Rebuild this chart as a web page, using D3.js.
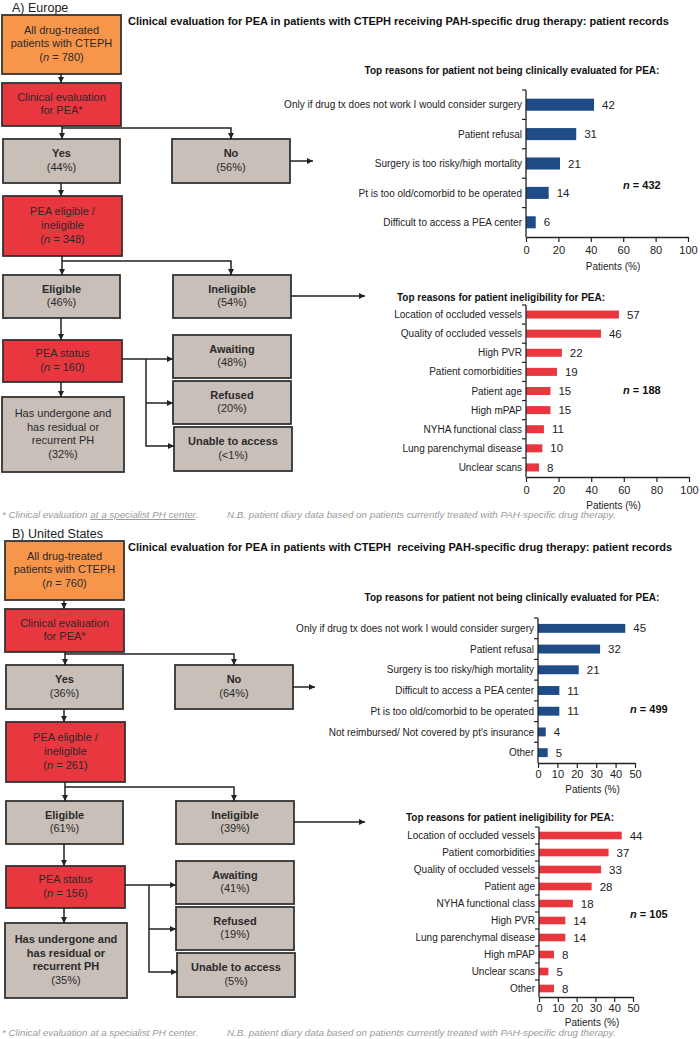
<!DOCTYPE html>
<html><head><meta charset="utf-8">
<script src="https://cdn.jsdelivr.net/npm/d3@7"></script>
<style>
body{margin:0;background:#fff;}
svg{display:block;font-family:"Liberation Sans",Arial,Helvetica,sans-serif;}
</style></head><body>
<svg id="chart" width="700" height="1039"></svg>
<script>
// ---------------- DATA ----------------
const regionLabels = ["A) Europe", "B) United States"];
const mainTitles = [
  "Clinical evaluation for PEA in patients with CTEPH receiving PAH-specific drug therapy: patient records",
  "Clinical evaluation for PEA in patients with CTEPH  receiving PAH-specific drug therapy: patient records"
];
const notEvalTitle = "Top reasons for patient not being clinically evaluated for PEA:";
const ineligTitle = "Top reasons for patient ineligibility for PEA:";
const axisTitle = "Patients (%)";
const footnoteLeft = ["* Clinical evaluation ", "at a specialist PH center", "."];
const footnoteRight = "N.B. patient diary data based on patients currently treated with PAH-specific drug therapy.";

// flowchart values
const europeCounts = [780, 348, 160];
const europeShares = ["44%", "56%", "46%", "54%", "32%", "48%", "20%", "<1%"];
const usCounts = [760, 261, 156];
const usShares = ["36%", "64%", "61%", "39%", "35%", "41%", "19%", "5%"];

// Europe bar charts
const euNotEvalReasons = ["Only if drug tx does not work I would consider surgery", "Patient refusal",
  "Surgery is too risky/high mortality", "Pt is too old/comorbid to be operated", "Difficult to access a PEA center"];
const euNotEvalValues = [42, 31, 21, 14, 6];
const euNotEvalN = 432;
const euIneligReasons = ["Location of occluded vessels", "Quality of occluded vessels", "High PVR",
  "Patient comorbidities", "Patient age", "High mPAP", "NYHA functional class", "Lung parenchymal disease", "Unclear scans"];
const euIneligValues = [57, 46, 22, 19, 15, 15, 11, 10, 8];
const euIneligN = 188;
const euTicks = [0, 20, 40, 60, 80, 100];

// US bar charts
const usNotEvalReasons = ["Only if drug tx does not work I would consider surgery", "Patient refusal",
  "Surgery is too risky/high mortality", "Difficult to access a PEA center", "Pt is too old/comorbid to be operated",
  "Not reimbursed/ Not covered by pt's insurance", "Other"];
const usNotEvalValues = [45, 32, 21, 11, 11, 4, 5];
const usNotEvalN = 499;
const usIneligReasons = ["Location of occluded vessels", "Patient comorbidities", "Quality of occluded vessels",
  "Patient age", "NYHA functional class", "High PVR", "Lung parenchymal disease", "High mPAP", "Unclear scans", "Other"];
const usIneligValues = [44, 37, 33, 28, 18, 14, 14, 8, 5, 8];
const usIneligN = 105;
const usTicks = [0, 10, 20, 30, 40, 50];

// ---------------- STYLE ----------------
const ORANGE = "#f7964a", RED = "#e9373f", GRAY = "#c8bfb8", NAVY = "#1f4c87", BARRED = "#e9373f";
const INK = "#222";

const svg = d3.select("#chart");
svg.append("defs").append("marker")
  .attr("id", "arr").attr("viewBox", "0 0 6 6").attr("refX", 6).attr("refY", 3)
  .attr("markerWidth", 6).attr("markerHeight", 6).attr("markerUnits", "userSpaceOnUse")
  .attr("orient", "auto")
  .append("path").attr("d", "M0,0L6,3L0,6Z").attr("fill", INK);

// rich text line: segments marked with _ for italic
function addLine(text, str, bold) {
  const parts = str.split("_");
  parts.forEach((p, i) => {
    if (!p) return;
    const ts = text.append("tspan").text(p);
    if (i % 2 === 1) ts.attr("font-style", "italic");
    if (bold) ts.attr("font-weight", "bold");
  });
}

function drawFlow(dx, dy, counts, shares, opt) {
  const g = svg.append("g").attr("transform", `translate(${dx},${dy})`);
  const boxes = [
    {x: 2, y: 15, w: 119, h: 59, fill: ORANGE, lines: ["All drug-treated", "patients with CTEPH", `(_n_ = ${counts[0]})`], bold: 0},
    {x: 2, y: 83, w: 119, h: 43, fill: RED, lines: ["Clinical evaluation", "for PEA*"], bold: 0},
    {x: 3, y: 139, w: 117, h: 44, fill: GRAY, lines: ["Yes", `(${shares[0]})`], bold: 1},
    {x: 172, y: 139, w: 118, h: 44, fill: GRAY, lines: ["No", `(${shares[1]})`], bold: 1},
    {x: 3, y: 196, w: 119, h: 60, fill: RED, lines: ["PEA eligible /", "ineligible", `(_n_ = ${counts[1]})`], bold: 0},
    {x: 3, y: 275, w: 117, h: 43, fill: GRAY, lines: ["Eligible", `(${shares[2]})`], bold: 1},
    {x: 173, y: 275, w: 118, h: 43, fill: GRAY, lines: ["Ineligible", `(${shares[3]})`], bold: 1},
    {x: 3, y: 340, w: 119, h: 42, fill: RED, lines: ["PEA status", `(_n_ = ${counts[2]})`], bold: 0},
    {x: 2, y: 397, w: 122, h: 75, fill: GRAY, lines: ["Has undergone and", "has residual or", "recurrent PH", `(${shares[4]})`], bold: opt.undergoneBold},
    {x: 173, y: 335, w: 118, h: 43, fill: GRAY, lines: ["Awaiting", `(${shares[5]})`], bold: 1},
    {x: 173, y: 381, w: 118, h: 43, fill: GRAY, lines: ["Refused", `(${shares[6]})`], bold: 1},
    {x: 174, y: 427, w: 118, h: 44, fill: GRAY, lines: ["Unable to access", `(${shares[7]})`], bold: 1}
  ];
  const LH = 13.6;
  boxes.forEach(b => {
    g.append("rect").attr("x", b.x).attr("y", b.y).attr("width", b.w).attr("height", b.h)
      .attr("fill", b.fill).attr("stroke", "#333").attr("stroke-width", 1.8);
    const cy = b.y + b.h / 2 - 1;
    const n = b.lines.length;
    b.lines.forEach((ln, i) => {
      const t = g.append("text").attr("x", b.x + b.w / 2)
        .attr("y", cy + (i - (n - 1) / 2) * LH).attr("dy", "0.36em")
        .attr("text-anchor", "middle").attr("font-size", 11).attr("fill", "#2a2a2a");
      addLine(t, ln, i < b.bold);
    });
  });
  const links = [
    [[61, 74], [61, 83]],
    [[62, 126], [62, 139]],
    [[62, 128], [231, 128], [231, 139]],
    [[290, 161], [opt.noEnd, 161]],
    [[61, 183], [61, 196]],
    [[62, 256], [62, 275]],
    [[62, 261], [231, 261], [231, 275]],
    [[291, 296], [opt.inEnd, 296]],
    [[61, 318], [61, 340]],
    [[61, 382], [61, 397]],
    [[122, 359], [173, 359]],
    [[146, 359], [146, 446], [174, 446]],
    [[146, 403], [173, 403]]
  ];
  const line = d3.line();
  links.forEach(p => {
    g.append("path").attr("d", line(p)).attr("fill", "none").attr("stroke", INK)
      .attr("stroke-width", 1.5).attr("marker-end", "url(#arr)");
  });
}

function barChart(cfg) {
  const g = svg.append("g");
  const x = d3.scaleLinear().domain([0, cfg.max]).range([cfg.x0, cfg.x1]);
  const y = d3.scaleBand().domain(cfg.cats).range([cfg.yTop, cfg.yBottom])
    .paddingInner(cfg.pad).paddingOuter(cfg.pad / 2);
  g.append("text").attr("x", cfg.titleX).attr("y", cfg.titleY).attr("text-anchor", "middle")
    .attr("font-size", 10).attr("font-weight", "bold").attr("fill", "#111").text(cfg.title);
  g.selectAll("rect.bar").data(cfg.cats).join("rect").attr("class", "bar")
    .attr("x", x(0)).attr("y", d => y(d))
    .attr("width", (d, i) => x(cfg.vals[i]) - x(0)).attr("height", y.bandwidth())
    .attr("fill", cfg.color);
  g.selectAll("text.val").data(cfg.cats).join("text").attr("class", "val")
    .attr("x", (d, i) => x(cfg.vals[i]) + 8).attr("y", d => y(d) + y.bandwidth() / 2)
    .attr("dy", "0.36em").attr("font-size", 11.5).attr("fill", "#222")
    .text((d, i) => cfg.vals[i]);
  g.selectAll("text.cat").data(cfg.cats).join("text").attr("class", "cat")
    .attr("x", cfg.x0 - 4).attr("y", d => y(d) + y.bandwidth() / 2)
    .attr("dy", "0.36em").attr("text-anchor", "end").attr("font-size", 10).attr("fill", "#222")
    .text(d => d);
  // y axis with ticks at category boundaries
  g.append("line").attr("x1", cfg.x0).attr("x2", cfg.x0).attr("y1", cfg.yTop).attr("y2", cfg.yBottom)
    .attr("stroke", INK).attr("stroke-width", 1.3);
  d3.range(cfg.cats.length).forEach(i => {
    const yy = cfg.yTop + i * y.step();
    g.append("line").attr("x1", cfg.x0 - 4).attr("x2", cfg.x0).attr("y1", yy).attr("y2", yy)
      .attr("stroke", INK).attr("stroke-width", 1.2);
  });
  const ax = g.append("g").attr("transform", `translate(0,${cfg.yBottom})`)
    .call(d3.axisBottom(x).tickValues(cfg.ticks).tickSize(5).tickSizeOuter(0).tickPadding(cfg.tickPad));
  ax.select(".domain").attr("stroke", INK).attr("stroke-width", 1.3);
  ax.selectAll(".tick line").attr("stroke", INK).attr("stroke-width", 1.2);
  ax.selectAll(".tick text").attr("font-size", 11).attr("fill", "#222")
    .attr("font-family", "Liberation Sans, Arial, sans-serif");
  g.append("text").attr("x", (cfg.x0 + cfg.x1) / 2 + 6).attr("y", cfg.yBottom + cfg.axTitleOff)
    .attr("text-anchor", "middle").attr("font-size", 10).attr("fill", "#222").text(axisTitle);
  const nt = g.append("text").attr("x", cfg.nX).attr("y", cfg.nY).attr("dy", "0.36em")
    .attr("font-size", 11).attr("font-weight", "bold").attr("fill", "#111");
  nt.append("tspan").attr("font-style", "italic").text("n");
  nt.append("tspan").text(` = ${cfg.n}`);
}

// ---------------- TEXT HEADERS ----------------
[[11.5, 25], [537.5, 551]].forEach((yy, i) => {
  svg.append("text").attr("x", 12).attr("y", yy[0]).attr("font-size", 12.5).attr("fill", "#222").text(regionLabels[i]);
  svg.append("text").attr("x", 128).attr("y", yy[1]).attr("font-size", 11).attr("font-weight", "bold")
    .attr("fill", "#111").style("white-space", "pre").text(mainTitles[i]);
});
[[518, true], [1036, false]].forEach(([yy, underline]) => {
  const t = svg.append("text").attr("x", 2).attr("y", yy).attr("font-size", 9.8)
    .attr("font-style", "italic").attr("fill", "#9a9a9a");
  t.append("tspan").style("white-space", "pre").text(footnoteLeft[0]);
  const u = t.append("tspan").text(footnoteLeft[1]);
  if (underline) u.attr("text-decoration", "underline");
  t.append("tspan").text(footnoteLeft[2]);
  svg.append("text").attr("x", 227).attr("y", yy).attr("font-size", 9.8)
    .attr("font-style", "italic").attr("fill", "#9a9a9a").text(footnoteRight);
});

// ---------------- FLOWCHARTS ----------------
drawFlow(0, 0, europeCounts, europeShares, {undergoneBold: 0, noEnd: 313, inEnd: 365});
drawFlow(3, 526, usCounts, usShares, {undergoneBold: 3, noEnd: 312, inEnd: 362});

// ---------------- BAR CHARTS ----------------
barChart({cats: euNotEvalReasons, vals: euNotEvalValues, max: 100, ticks: euTicks, x0: 526, x1: 688,
  yTop: 90, yBottom: 237, pad: 0.59, color: NAVY, title: notEvalTitle, titleX: 512, titleY: 73.5,
  axTitleOff: 32.5, tickPad: 4, n: euNotEvalN, nX: 623, nY: 185});
barChart({cats: euIneligReasons, vals: euIneligValues, max: 100, ticks: euTicks, x0: 526, x1: 689,
  yTop: 305, yBottom: 477, pad: 0.58, color: BARRED, title: ineligTitle, titleX: 501, titleY: 300.5,
  axTitleOff: 31.5, tickPad: 4, n: euIneligN, nX: 623, nY: 390});
barChart({cats: usNotEvalReasons, vals: usNotEvalValues, max: 50, ticks: usTicks, x0: 538, x1: 635,
  yTop: 618, yBottom: 763, pad: 0.57, color: NAVY, title: notEvalTitle, titleX: 512, titleY: 600.5,
  axTitleOff: 29.5, tickPad: 2, n: usNotEvalN, nX: 630, nY: 709});
barChart({cats: usIneligReasons, vals: usIneligValues, max: 50, ticks: usTicks, x0: 539, x1: 633,
  yTop: 827, yBottom: 997, pad: 0.55, color: BARRED, title: ineligTitle, titleX: 510, titleY: 820.5,
  axTitleOff: 28.5, tickPad: 2, n: usIneligN, nX: 630, nY: 914});
</script>
</body></html>
